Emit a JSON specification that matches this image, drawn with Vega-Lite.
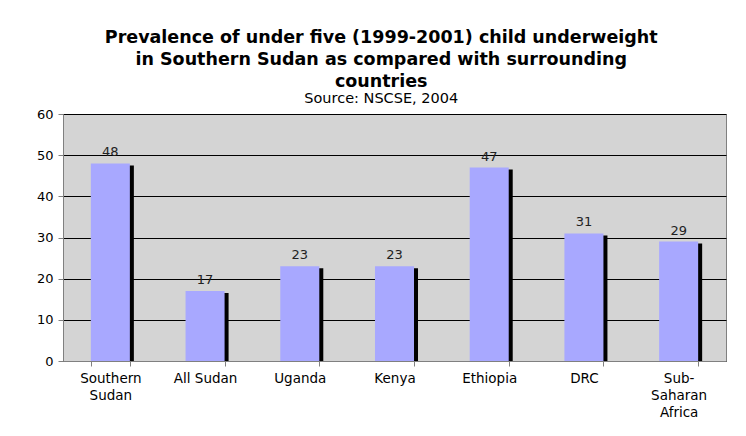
{
  "$schema": "https://vega.github.io/schema/vega-lite/v6.json",
  "width": 663,
  "height": 247,
  "autosize": {"type": "none"},
  "padding": {"left": 63, "top": 114, "right": 20, "bottom": 75},
  "background": "white",
  "title": {
    "text": ["Prevalence of under five (1999-2001) child underweight", "in Southern Sudan as compared with surrounding", "countries"],
    "subtitle": "Source: NSCSE, 2004",
    "anchor": "middle",
    "frame": "bounds",
    "font": "DejaVu Sans",
    "fontSize": 17.5,
    "fontWeight": "bold",
    "color": "black",
    "lineHeight": 22,
    "subtitleFont": "DejaVu Sans",
    "subtitleFontSize": 14.5,
    "subtitleColor": "black",
    "subtitlePadding": 1,
    "offset": 3
  },
  "data": {
    "values": [
      {"country": "Southern Sudan", "value": 48},
      {"country": "All Sudan", "value": 17},
      {"country": "Uganda", "value": 23},
      {"country": "Kenya", "value": 23},
      {"country": "Ethiopia", "value": 47},
      {"country": "DRC", "value": 31},
      {"country": "Sub-Saharan Africa", "value": 29}
    ]
  },
  "encoding": {
    "x": {
      "field": "country",
      "type": "nominal",
      "sort": null,
      "scale": {"paddingInner": 0.588, "paddingOuter": 0.294},
      "axis": {
        "title": null,
        "labelAngle": 0,
        "tickBand": "extent",
        "tickSize": 5,
        "tickColor": "#808080",
        "domainColor": "#808080",
        "labelPadding": 5,
        "labelFont": "DejaVu Sans",
        "labelFontSize": 13.5,
        "labelColor": "black",
        "labelLineHeight": 17,
        "labelExpr": "datum.value == 'Southern Sudan' ? ['Southern', 'Sudan'] : datum.value == 'Sub-Saharan Africa' ? ['Sub-', 'Saharan', 'Africa'] : datum.label"
      }
    },
    "y": {
      "field": "value",
      "type": "quantitative",
      "scale": {"domain": [0, 60], "nice": false},
      "axis": {
        "title": null,
        "values": [0, 10, 20, 30, 40, 50, 60],
        "grid": true,
        "gridColor": "black",
        "gridWidth": 1,
        "domainColor": "#808080",
        "tickColor": "#808080",
        "tickSize": 5,
        "labelPadding": 5,
        "labelFont": "DejaVu Sans",
        "labelFontSize": 13,
        "labelColor": "black"
      }
    }
  },
  "layer": [
    {"mark": {"type": "bar", "color": "black", "xOffset": 4, "yOffset": 2, "clip": true}},
    {"mark": {"type": "bar", "color": "#A8A8FF"}},
    {
      "mark": {"type": "text", "baseline": "alphabetic", "dy": -7, "font": "DejaVu Sans", "fontSize": 13, "color": "#222222"},
      "encoding": {"text": {"field": "value", "type": "quantitative"}}
    }
  ],
  "config": {
    "view": {"fill": "#D4D4D4", "stroke": "#808080", "strokeWidth": 1}
  }
}
